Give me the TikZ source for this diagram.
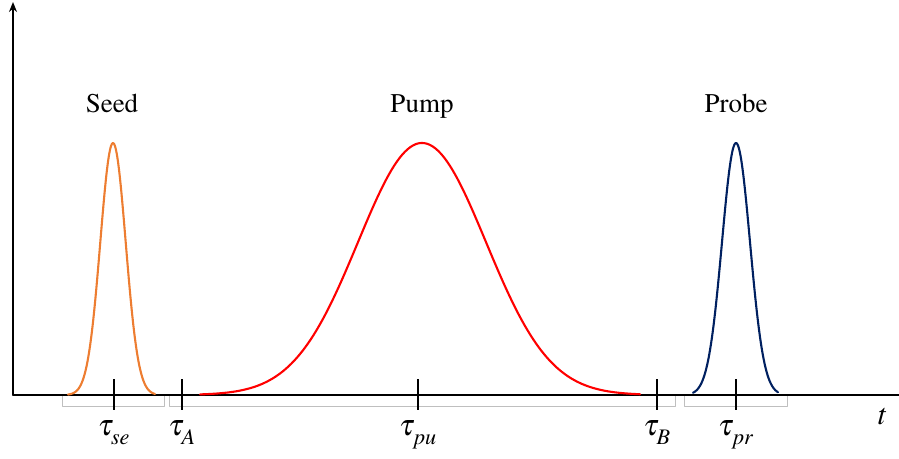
\documentclass[tikz,border=0pt]{standalone}
\usepackage[T1]{fontenc}
\usepackage{mathptmx}
\usepackage{tikz}
\usetikzlibrary{arrows.meta}
\tikzset{
  every picture/.style={line join=round, line cap=round, >=Stealth},
  axis/.style={line width=1.9pt},
  pulse/.style={line width=2.1pt},
  taumark/.style={line width=2.4pt, line cap=butt},
  window/.style={draw=black!25, line width=0.9pt},
  title/.style={font=\fontsize{27}{30}\selectfont, anchor=base, inner sep=0pt},
  lab/.style={font=\fontsize{30}{34}\selectfont, anchor=base, inner sep=0pt},
}
\definecolor{seedcol}{RGB}{237,125,49}
\definecolor{probecol}{RGB}{0,32,96}
\newcommand{\tausub}[1]{\tau_{\lower4.5pt\hbox{$\scriptstyle #1$}}}

\begin{document}
\begin{tikzpicture}[x=1pt,y=-1pt]
\useasboundingbox (0,0) rectangle (899,458);
% time windows
\draw[window](62,394) rectangle (164,406);
\draw[window](169,394) rectangle (675,406);
\draw[window](684,394) rectangle (787,406);
% axes
\draw[axis,-{Stealth[length=10pt,width=8pt]}](13,395)--(13,2);
\draw[axis](13,395)--(899,395);
% pulses
\draw[pulse,seedcol] plot[domain=68:155,samples=90,smooth] (\x,{395-252*exp(-0.5*((\x-113)/12.7)^2)});
\draw[pulse,red] plot[domain=200:640,samples=160,smooth] (\x,{395-252*exp(-0.5*((\x-422)/64)^2)});
\draw[pulse,probecol] plot[domain=693:778,samples=90,smooth] (\x,{395-252*exp(-0.5*((\x-736)/14)^2)});
% ticks
\draw[taumark](114,379)--(114,410)
(182,379)--(182,410)
(418,379)--(418,410)
(657,379)--(657,410)
(736,379)--(736,410);
% titles
\node[title](seed) at (112,112.5){Seed};
\node[title](pump) at (422,112.5){Pump};
\node[title](probe) at (736,112.5){Probe};
% time labels
\node[lab](tse) at (114,435){$\tausub{se}$};
\node[lab](tA) at (182,435){$\tausub{A}$};
\node[lab](tpu) at (418,435){$\tausub{pu}$};
\node[lab](tB) at (657,435){$\tausub{B}$};
\node[lab](tpr) at (736,435){$\tausub{pr}$};
\node[lab](t) at (883,424){$t$};
\end{tikzpicture}
\end{document}
